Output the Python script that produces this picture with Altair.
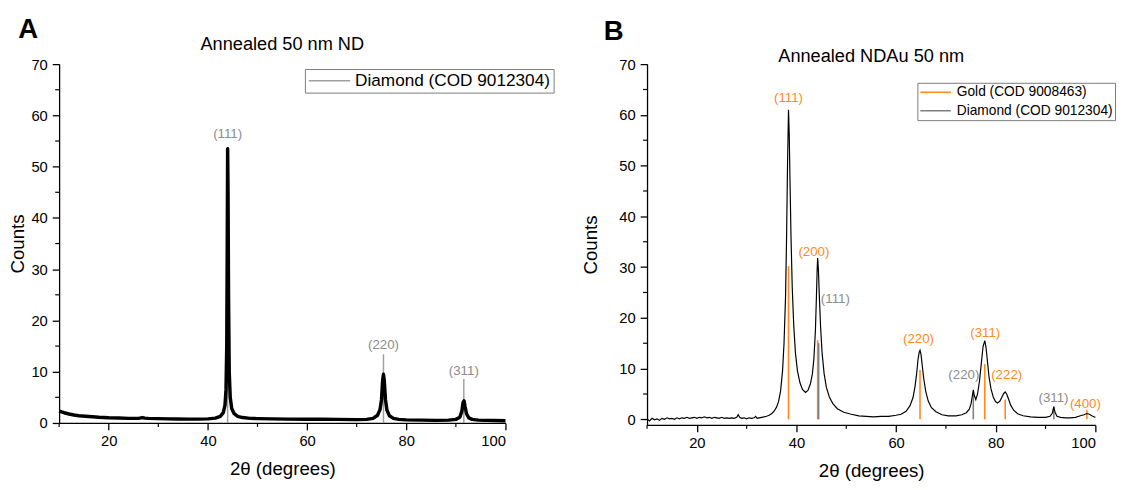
import altair as alt
import pandas as pd

FONT = "Liberation Sans"
ORANGE = "#FF8A1C"
GRAY = "#8c8c8c"

# ---------------- Panel A data ----------------
a_x = [10, 11, 12, 13, 14, 16, 18, 20, 22, 24, 26, 26.8, 27.3, 28, 30, 32, 34, 36, 38, 40,
       41.5, 42.5, 43.1, 43.45, 43.65, 43.8, 43.9, 43.98, 44.06, 44.16, 44.3, 44.5, 44.8, 45.3, 46,
       47, 48.5, 50, 53, 56, 60, 63, 66, 70, 72, 73.3, 74.2, 74.7, 75.0, 75.25, 75.4, 75.55, 75.8,
       76.1, 76.6, 77.4, 78.5, 80, 83, 86, 88.5, 90, 90.8, 91.2, 91.45, 91.65, 91.85, 92.15, 92.6,
       93.3, 94.5, 96, 98, 100]
a_y = [2.3, 2.0, 1.75, 1.55, 1.4, 1.25, 1.1, 1.0, 0.95, 0.9, 0.9, 1.05, 0.95, 0.9, 0.85, 0.8,
       0.78, 0.75, 0.75, 0.8, 0.95, 1.3, 2.0, 3.5, 6.5, 15, 35, 53.5, 45, 25, 10, 5, 2.8, 1.8, 1.3,
       1.05, 0.9, 0.85, 0.8, 0.75, 0.72, 0.75, 0.7, 0.65, 0.7, 0.9, 1.5, 2.6, 4.5, 8.5, 9.5, 8.4,
       4.6, 2.5, 1.4, 0.9, 0.7, 0.6, 0.55, 0.5, 0.55, 0.7, 1.1, 2.3, 4.0, 4.3, 3.2, 1.8, 1.0, 0.7,
       0.55, 0.5, 0.48, 0.45]
a_ref_pos = [43.98, 75.4, 91.6]
a_ref_h = [53.5, 13.4, 8.6]
a_ref_lbl = ["(111)", "(220)", "(311)"]
a_lbl_x = [43.98, 75.4, 91.6]
a_lbl_y = [56.4, 15.2, 10.1]
a_phase = "Diamond (COD 9012304)"
a_title = "Annealed 50 nm ND"
a_letter = "A"

# ---------------- Panel B data ----------------
b_x = [10, 10.5, 11, 11.5, 12, 12.5, 13, 13.5, 14, 14.5, 15, 15.5, 16, 16.5, 17, 17.5, 18, 18.5,
       19, 19.5, 20, 20.5, 21, 21.5, 22, 22.5, 23, 23.5, 24, 24.5, 25, 25.5, 26, 26.5, 27, 27.5,
       28.0, 28.3, 28.6, 29, 29.5, 30, 30.5, 31, 31.5, 31.8, 32.1, 32.5, 33, 33.5, 34, 34.5, 35,
       35.5, 36, 36.4, 36.8, 37.2, 37.5, 37.8, 38.0, 38.2, 38.4, 38.55, 38.7, 38.9, 39.15, 39.45,
       39.8, 40.2, 40.7, 41.2, 41.8, 42.3, 42.8, 43.2, 43.5, 43.8, 44.0, 44.15, 44.25, 44.4, 44.6,
       44.85, 45.15, 45.55, 46.0, 46.6, 47.3, 48.2, 49.5, 51, 52.5, 54, 55.5, 57, 58.5, 60, 61,
       62, 62.8, 63.4, 63.8, 64.1, 64.4, 64.65, 64.8, 65.0, 65.25, 65.55, 65.95, 66.45, 67.1, 68,
       69.2, 70.5, 72, 73.2, 74.1, 74.7, 75.05, 75.3, 75.5, 75.7, 76.0, 76.35, 76.75, 77.1, 77.45,
       77.8, 78.05, 78.3, 78.65, 79.05, 79.5, 79.95, 80.35, 80.85, 81.25, 81.6, 81.9, 82.2, 82.6,
       83.0, 83.6, 84.4, 85.5, 87, 88.5, 90, 90.9, 91.35, 91.65, 91.9, 92.3, 93, 94, 95, 96, 97,
       97.7, 98.3, 98.8, 99.3, 99.7, 100]
b_y = [0.1, -0.3, 0.2, -0.1, 0.1, -0.2, 0.2, 0.0, 0.3, 0.1, 0.2, 0.0, 0.3, 0.1, 0.3, 0.2, 0.4, 0.2,
       0.3, 0.4, 0.2, 0.4, 0.3, 0.5, 0.3, 0.4, 0.2, 0.4, 0.3, 0.2, 0.4, 0.2, 0.3, 0.2, 0.3, 0.2,
       0.4, 0.9, 0.4, 0.2, 0.3, 0.1, 0.3, 0.2, 0.3, 0.6, 0.2, 0.3, 0.4, 0.5, 0.6, 0.8, 1.1,
       1.6, 2.4, 3.5, 5.5, 9.5, 15, 24, 35, 50, 61, 56, 47, 36, 26, 18.5,
       13, 9.5, 7.2, 5.9, 5.3, 5.7, 7.0, 9.0, 12, 17.5, 24, 29.5, 31.8, 29.5, 24,
       18, 13, 9, 6.3, 4.4, 3.1, 2.1, 1.4, 1.0, 0.7, 0.6, 0.5, 0.6, 0.6, 0.8, 1.0,
       1.6, 2.7, 4.3, 6.5, 8.8, 11.8, 13.3, 13.6, 12.8, 10.6, 8.0, 5.5, 3.6, 2.3, 1.5,
       0.9, 0.7, 0.7, 0.9, 1.3, 2.0, 3.1, 4.6, 5.8, 4.7, 3.9, 5.0, 7.6, 11, 14.3,
       15.5, 14.2, 11.8, 8.4, 6.0, 4.4, 3.5, 3.2, 3.6, 4.4, 5.1, 5.4, 5.0, 3.9,
       2.8, 1.8, 1.1, 0.7, 0.5, 0.4, 0.4, 0.6, 1.2, 2.5, 1.4, 0.6, 0.4, 0.3, 0.3, 0.4, 0.7,
       0.9, 1.15, 1.0, 0.7, 0.5, 0.4]
gold_phase = "Gold (COD 9008463)"
dia_phase = "Diamond (COD 9012304)"
gold_pos = [38.4, 44.25, 64.8, 77.8, 81.9, 98.3]
gold_h = [30.2, 15.6, 9.7, 10.9, 3.9, 1.9]
gold_lbl = ["(111)", "(200)", "(220)", "(311)", "(222)", "(400)"]
gold_lbl_x = [38.4, 43.5, 64.5, 77.9, 82.2, 98.0]
gold_lbl_y = [63.3, 33.0, 15.9, 17.0, 8.7, 3.1]
dia_pos = [44.45, 75.5, 91.65]
dia_h = [15.0, 5.0, 2.5]
dia_lbl = ["(111)", "(220)", "(311)"]
dia_lbl_x = [47.8, 73.6, 91.6]
dia_lbl_y = [23.8, 8.8, 4.2]
b_title = "Annealed NDAu 50 nm"
b_letter = "B"

# axis ticks
x_major = [20, 40, 60, 80, 100]
x_minor = [10, 30, 50, 70, 90]
y_major = [0, 10, 20, 30, 40, 50, 60, 70]
y_minor = [5, 15, 25, 35, 45, 55, 65]
x_title = "2θ (degrees)"
y_title = "Counts"

AW, AH = 454, 365
BW, BH = 456, 367


def x_axis():
    return alt.Axis(values=x_major, tickSize=7, labelPadding=4, labelFontSize=15,
                    title=x_title, titleFontSize=19, titlePadding=11, grid=False,
                    domainColor="black", tickColor="black", labelColor="black",
                    titleColor="black", titleFontWeight="normal", domainWidth=1.3,
                    tickWidth=1.3, labelFont=FONT, titleFont=FONT)


def y_axis(tp):
    return alt.Axis(values=y_major, tickSize=7, labelPadding=5, labelFontSize=15,
                    title=y_title, titleFontSize=19, titlePadding=tp, grid=False,
                    domainColor="black", tickColor="black", labelColor="black",
                    titleColor="black", titleFontWeight="normal", domainWidth=1.3,
                    tickWidth=1.3, labelFont=FONT, titleFont=FONT)


def minor_ticks(xs, ys, H):
    mx = alt.Chart(pd.DataFrame({"v": xs})).mark_rule(color="black", strokeWidth=1.2).encode(
        x=alt.X("v:Q"), y=alt.value(H), y2=alt.value(H + 4))
    my = alt.Chart(pd.DataFrame({"v": ys})).mark_rule(color="black", strokeWidth=1.2).encode(
        y=alt.Y("v:Q"), x=alt.value(0), x2=alt.value(-4))
    return mx, my


def text_layer(s, x, y, size, weight="normal", align="center", baseline="middle"):
    return alt.Chart(pd.DataFrame({"t": [s]})).mark_text(
        font=FONT, fontSize=size, fontWeight=weight, align=align, baseline=baseline,
        color="black").encode(text="t:N", x=alt.value(x), y=alt.value(y))


# ---------------- Panel A ----------------
xs_a = alt.Scale(domain=[10, 100], nice=False, zero=False)
ys_a = alt.Scale(domain=[0, 70], nice=False, zero=False)

a_df = pd.DataFrame({"x": a_x, "y": a_y})
a_ref = pd.DataFrame({"x": a_ref_pos, "h": a_ref_h, "b": [0] * len(a_ref_pos),
                      "phase": [a_phase] * len(a_ref_pos)})
a_lbl = pd.DataFrame({"x": a_lbl_x, "y": a_lbl_y, "t": a_ref_lbl})

a_sticks = alt.Chart(a_ref).mark_rule(strokeWidth=1.5).encode(
    x=alt.X("x:Q", scale=xs_a, axis=x_axis()),
    y=alt.Y("h:Q", scale=ys_a, axis=y_axis(4)),
    y2="b:Q",
    color=alt.Color("phase:N", scale=alt.Scale(domain=[a_phase], range=["#a0a0a0"]),
                    legend=alt.Legend(orient="none", legendX=250, legendY=5, title=None,
                                      symbolType="stroke", symbolSize=1764, symbolStrokeWidth=1.5,
                                      clipHeight=18,
                                      labelFontSize=17.5, labelFont=FONT, labelColor="black",
                                      strokeColor="#7a7a7a", fillColor="white", padding=3,
                                      labelOffset=4, labelLimit=500)))
a_line = alt.Chart(a_df).mark_line(color="black", strokeWidth=3.5, strokeJoin="round").encode(
    x=alt.X("x:Q", scale=xs_a), y=alt.Y("y:Q", scale=ys_a))
a_text = alt.Chart(a_lbl).mark_text(font=FONT, fontSize=13.5, color=GRAY).encode(
    x=alt.X("x:Q", scale=xs_a), y=alt.Y("y:Q", scale=ys_a), text="t:N")
amx, amy = minor_ticks(x_minor, y_minor, AH)

A = alt.layer(
    a_sticks, a_line, a_text, amx, amy,
    text_layer(a_title, AW / 2, -20, 18.5),
    text_layer(a_letter, -41.5, -27, 28, "bold", "left", "alphabetic"),
).properties(width=AW, height=AH)

# ---------------- Panel B ----------------
xs_b = alt.Scale(domain=[10, 100], nice=False, zero=False)
ys_b = alt.Scale(domain=[-1.1, 70], nice=False, zero=False)

b_df = pd.DataFrame({"x": b_x, "y": b_y})
b_ref = pd.DataFrame({"x": gold_pos + dia_pos, "h": gold_h + dia_h,
                      "b": [0] * (len(gold_pos) + len(dia_pos)),
                      "phase": [gold_phase] * len(gold_pos) + [dia_phase] * len(dia_pos)})
b_lbl = pd.DataFrame({"x": gold_lbl_x + dia_lbl_x, "y": gold_lbl_y + dia_lbl_y,
                      "t": gold_lbl + dia_lbl,
                      "phase": [gold_phase] * len(gold_lbl) + [dia_phase] * len(dia_lbl)})

b_color_scale = alt.Scale(domain=[gold_phase, dia_phase], range=[ORANGE, "#7f7f7f"])
b_sticks = alt.Chart(b_ref).mark_rule(strokeWidth=1.6).encode(
    x=alt.X("x:Q", scale=xs_b, axis=x_axis()),
    y=alt.Y("h:Q", scale=ys_b, axis=y_axis(19)),
    y2="b:Q",
    color=alt.Color("phase:N", scale=b_color_scale,
                    legend=alt.Legend(orient="none", legendX=275, legendY=19, title=None,
                                      symbolType="stroke", symbolSize=961, symbolStrokeWidth=1.5,
                                      clipHeight=15,
                                      labelFontSize=14, labelFont=FONT, labelColor="black",
                                      strokeColor="#7a7a7a", fillColor="white", padding=2,
                                      rowPadding=4, labelOffset=5, labelLimit=500)))
b_line = alt.Chart(b_df).mark_line(color="black", strokeWidth=1.2).encode(
    x=alt.X("x:Q", scale=xs_b), y=alt.Y("y:Q", scale=ys_b))
b_text = alt.Chart(b_lbl).mark_text(font=FONT, fontSize=13.5).encode(
    x=alt.X("x:Q", scale=xs_b), y=alt.Y("y:Q", scale=ys_b), text="t:N",
    color=alt.Color("phase:N", scale=alt.Scale(domain=[gold_phase, dia_phase],
                                               range=[ORANGE, GRAY]), legend=None))
bmx, bmy = minor_ticks(x_minor, y_minor, BH)

B = alt.layer(
    b_sticks, b_line, b_text, bmx, bmy,
    text_layer(b_title, BW / 2, -8, 18.5),
    text_layer(b_letter, -44, -25, 28, "bold", "left", "alphabetic"),
).properties(width=BW, height=BH).resolve_scale(color="independent")

chart = alt.hconcat(A, B, spacing=27).resolve_scale(
    x="independent", y="independent", color="independent"
).resolve_legend(color="independent").properties(
    padding={"left": 0, "top": 4, "right": 0, "bottom": 0}
).configure_view(stroke=None)

chart.save("out.html", embed_options={"renderer": "svg", "actions": False})
